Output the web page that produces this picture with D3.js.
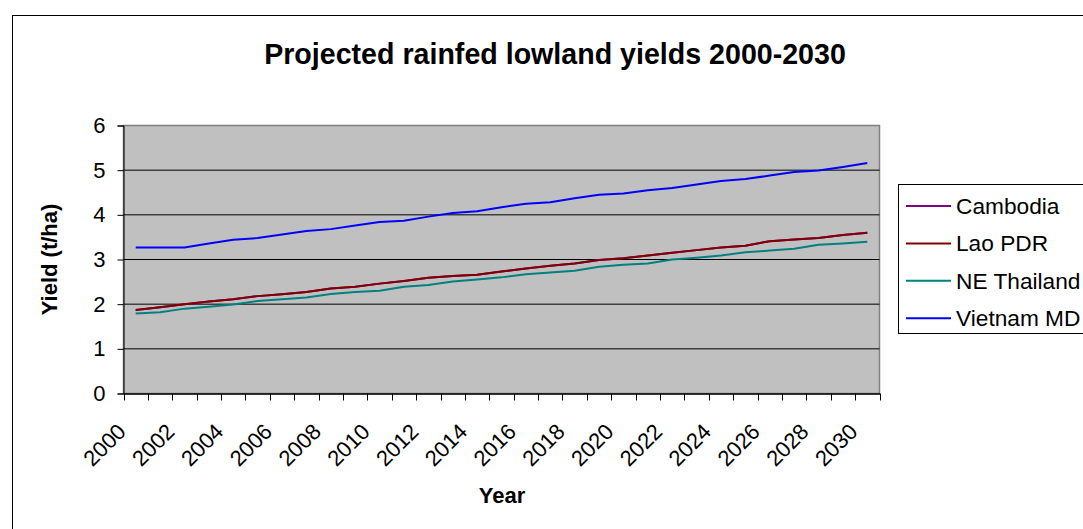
<!DOCTYPE html>
<html>
<head>
<meta charset="utf-8">
<script src="https://cdn.jsdelivr.net/npm/d3@7"></script>
<style>
  html, body { margin: 0; padding: 0; background: #fff; }
  svg { display: block; font-family: "Liberation Sans", Arial, sans-serif; }
</style>
</head>
<body>
<svg id="chart" width="1083" height="529"></svg>
<script>
// Years on the category axis
const years = d3.range(2000, 2031);
const yTicks = [0, 1, 2, 3, 4, 5, 6];

// Projected yields (t/ha) per region
const cambodia = [1.87, 1.93, 2.00, 2.06, 2.11, 2.18, 2.22, 2.27, 2.35, 2.39, 2.46,
  2.52, 2.59, 2.63, 2.66, 2.73, 2.80, 2.86, 2.91, 2.99, 3.03,
  3.09, 3.15, 3.21, 3.27, 3.31, 3.41, 3.45, 3.48, 3.55, 3.60];
const laoPDR = [1.87, 1.93, 2.00, 2.06, 2.11, 2.18, 2.22, 2.27, 2.35, 2.39, 2.46,
  2.52, 2.59, 2.63, 2.66, 2.73, 2.80, 2.86, 2.91, 2.99, 3.03,
  3.09, 3.15, 3.21, 3.27, 3.31, 3.41, 3.45, 3.48, 3.55, 3.60];
const neThailand = [1.79, 1.82, 1.90, 1.94, 1.99, 2.07, 2.11, 2.15, 2.23, 2.27, 2.30,
  2.39, 2.43, 2.51, 2.55, 2.60, 2.67, 2.71, 2.75, 2.84, 2.88,
  2.91, 3.00, 3.04, 3.09, 3.16, 3.20, 3.24, 3.33, 3.36, 3.40];
const vietnamMD = [3.27, 3.27, 3.27, 3.36, 3.44, 3.48, 3.56, 3.64, 3.68, 3.76, 3.84,
  3.87, 3.96, 4.04, 4.08, 4.17, 4.25, 4.28, 4.37, 4.45, 4.48,
  4.55, 4.60, 4.68, 4.76, 4.80, 4.88, 4.96, 4.99, 5.07, 5.16];

const seriesNames = ["Cambodia", "Lao PDR", "NE Thailand", "Vietnam MD"];
const seriesColors = ["#800080", "#800000", "#008080", "#0000FF"];
const seriesValues = [cambodia, laoPDR, neThailand, vietnamMD];

const svg = d3.select("#chart");

const plot = { left: 123.5, right: 879.5, top: 125.5, bottom: 393.5 };

const x = d3.scaleBand().domain(years).range([plot.left, plot.right]).padding(0);
const y = d3.scaleLinear().domain([0, 6]).range([plot.bottom, plot.top]);

// Outer chart frame
svg.append("rect")
  .attr("x", 12.5).attr("y", 15.5)
  .attr("width", 1100).attr("height", 600)
  .attr("fill", "#fff").attr("stroke", "#000").attr("stroke-width", 1);

// Title
svg.append("text")
  .attr("x", 555).attr("y", 64)
  .attr("text-anchor", "middle")
  .attr("font-size", 28.6).attr("font-weight", "bold")
  .text("Projected rainfed lowland yields 2000-2030");

// Plot background
svg.append("rect")
  .attr("x", plot.left).attr("y", plot.top)
  .attr("width", plot.right - plot.left).attr("height", plot.bottom - plot.top)
  .attr("fill", "#C0C0C0").attr("stroke", "#808080").attr("stroke-width", 1.5);

// Horizontal gridlines
svg.append("g").selectAll("line")
  .data(yTicks.filter(v => v > 0 && v < 6))
  .join("line")
  .attr("x1", plot.left).attr("x2", plot.right)
  .attr("y1", d => y(d)).attr("y2", d => y(d))
  .attr("stroke", "#000").attr("stroke-width", 1);

// Y axis
const yAxis = svg.append("g")
  .attr("transform", `translate(${plot.left},0)`)
  .call(d3.axisLeft(y).tickValues(yTicks).tickSize(6).tickPadding(12).tickFormat(d3.format("d")));
yAxis.select(".domain").attr("stroke", "#000");
yAxis.selectAll(".tick line").attr("stroke", "#000");
yAxis.selectAll(".tick text")
  .attr("font-size", 22).attr("fill", "#000")
  .attr("font-family", "Liberation Sans, Arial, sans-serif");

// X axis: labels every second year, tick marks between categories
const xAxis = svg.append("g")
  .attr("transform", `translate(0,${plot.bottom})`)
  .call(d3.axisBottom(x).tickValues(years.filter((d, i) => i % 2 === 0)).tickSize(0).tickPadding(0));
xAxis.select(".domain").attr("stroke", "#000").attr("stroke-width", 1.5);
xAxis.selectAll(".tick text")
  .attr("font-size", 22).attr("fill", "#000")
  .attr("font-family", "Liberation Sans, Arial, sans-serif")
  .attr("text-anchor", "end")
  .attr("x", 0).attr("y", 0).attr("dy", 0)
  .attr("transform", "translate(-8.5,39.5) rotate(-45)");

svg.append("g").selectAll("line")
  .data(years.map(d => x(d)).concat([x(years[years.length - 1]) + x.bandwidth()]))
  .join("line")
  .attr("x1", d => Math.round(d) + 0.5).attr("x2", d => Math.round(d) + 0.5)
  .attr("y1", plot.bottom).attr("y2", plot.bottom + 7)
  .attr("stroke", "#000").attr("stroke-width", 1);

// Axis titles
svg.append("text")
  .attr("x", 502).attr("y", 503)
  .attr("text-anchor", "middle")
  .attr("font-size", 22).attr("font-weight", "bold")
  .text("Year");

svg.append("text")
  .attr("transform", `translate(57,${(plot.top + plot.bottom) / 2}) rotate(-90)`)
  .attr("text-anchor", "middle")
  .attr("font-size", 22).attr("font-weight", "bold")
  .text("Yield (t/ha)");

// Series lines
const line = d3.line()
  .x((d, i) => x(years[i]) + x.bandwidth() / 2)
  .y(d => y(d));

svg.append("g").selectAll("path")
  .data(seriesValues)
  .join("path")
  .attr("d", d => line(d))
  .attr("fill", "none")
  .attr("stroke", (d, i) => seriesColors[i])
  .attr("stroke-width", 2)
  .attr("stroke-linejoin", "round");

// Legend
const legend = svg.append("g");
legend.append("rect")
  .attr("x", 898.5).attr("y", 184.5)
  .attr("width", 200).attr("height", 149)
  .attr("fill", "#fff").attr("stroke", "#000").attr("stroke-width", 1);

const legendItems = legend.selectAll("g.item")
  .data(seriesNames)
  .join("g")
  .attr("class", "item")
  .attr("transform", (d, i) => `translate(0,${206 + i * 37.4})`);
legendItems.append("line")
  .attr("x1", 906).attr("x2", 951)
  .attr("y1", 0).attr("y2", 0)
  .attr("stroke", (d, i) => seriesColors[i]).attr("stroke-width", 2);
legendItems.append("text")
  .attr("x", 956).attr("y", 8)
  .attr("font-size", 22.7)
  .text(d => d);
</script>
</body>
</html>
